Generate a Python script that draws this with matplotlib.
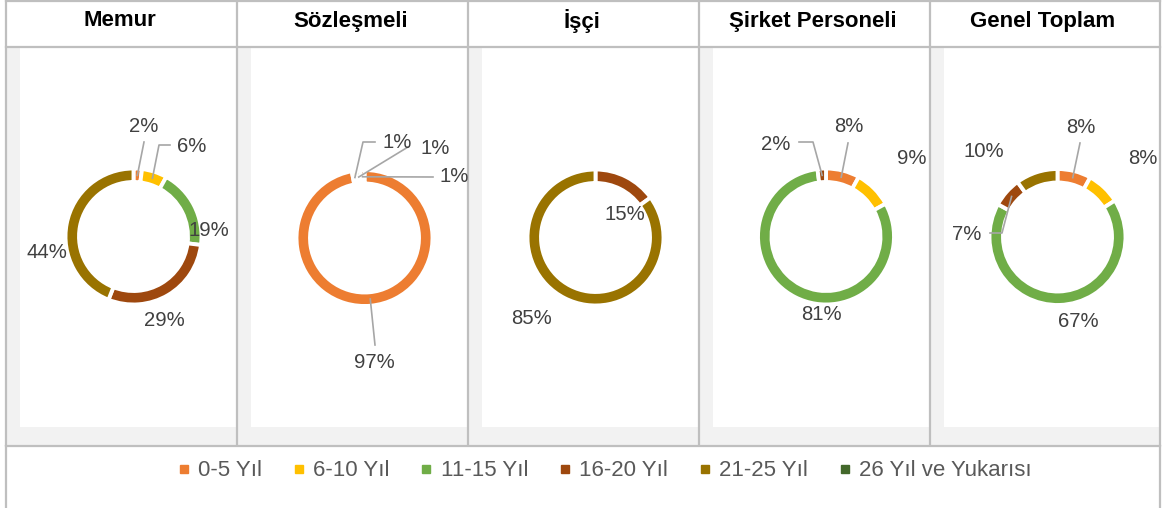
import numpy as np
import matplotlib
matplotlib.use("Agg")
import matplotlib.pyplot as plt
from matplotlib.patches import Rectangle
from matplotlib.lines import Line2D
from matplotlib import font_manager

W, H = 1162, 508

categories = ["0-5 Yıl", "6-10 Yıl", "11-15 Yıl", "16-20 Yıl", "21-25 Yıl", "26 Yıl ve Yukarısı"]
colors = ["#ED7D31", "#FFC000", "#70AD47", "#9E480E", "#997300", "#43682B"]

titles = ["Memur", "Sözleşmeli", "İşçi", "Şirket Personeli", "Genel Toplam"]
memur = [2, 6, 19, 29, 44, 0]
sozlesmeli = [97, 1, 1, 1, 0, 0]
isci = [0, 0, 0, 15, 85, 0]
sirket = [8, 9, 81, 2, 0, 0]
genel = [8, 8, 67, 7, 10, 0]
panels = [memur, sozlesmeli, isci, sirket, genel]

# label placement per panel: category -> (dx, dy, leader points), pixels from donut centre
label_pos = [
    {0: (10, -110.5, [(10.5, -94.5)]),
     1: (58.5, -90.5, [(36.5, -91.5), (25.5, -91.5)]),
     2: (75.5, -5.5, None),
     3: (30.5, 83.5, None),
     4: (-86.5, 16, None)},
    {0: (10, 124.5, [(10.5, 107)]),
     1: (33, -95.5, [(10.5, -96), (-1.5, -96)]),
     2: (70.5, -90, [(43.5, -91)]),
     3: (90, -62, [(68.5, -61)])},
    {3: (29, -23.5, None),
     4: (-63.5, 80.5, None)},
    {0: (23, -110, [(22, -93.5)]),
     1: (85.5, -77.5, None),
     2: (-5, 78.5, None),
     3: (-50, -92, [(-27, -94.5), (-13, -94.5)])},
    {0: (23.5, -109.5, [(22.5, -94)]),
     1: (85, -78, None),
     2: (21, 84.5, None),
     3: (-90.5, -3, [(-67.5, -4), (-55.5, -4)]),
     4: (-74, -85.5, None)},
]

names = {f.name for f in font_manager.fontManager.ttflist}
narrow = "Liberation Sans Narrow" in names
lab_family = ["Liberation Sans Narrow"] if narrow else ["Liberation Sans"]
lab_size = 16.5 if narrow else 14.6
plt.rcParams["font.family"] = ["Liberation Sans", "DejaVu Sans"]

fig = plt.figure(figsize=(W / 100, H / 100), dpi=100)
bg = fig.add_axes([0, 0, 1, 1])
bg.set_xlim(0, W)
bg.set_ylim(H, 0)
bg.axis("off")

border = "#BFBFBF"
col_x = [6, 237, 468, 699, 930, 1160]
for i in range(5):
    x0, x1 = col_x[i], col_x[i + 1]
    bg.add_patch(Rectangle((x0, 47), x1 - x0, 399, facecolor="#F2F2F2", edgecolor="none"))
    bg.add_patch(Rectangle((x0 + 14, 48), x1 - x0 - 14, 379, facecolor="white", edgecolor="none"))
    bg.text((x0 + x1) / 2 - 2, 21, titles[i], ha="center", va="center",
            fontsize=16, fontweight="bold", color="black")
for x in col_x:
    bg.plot([x, x], [0, 446], color=border, lw=1.6, solid_capstyle="butt")
bg.plot([6, 6], [446, H], color=border, lw=1.6)
bg.plot([1160, 1160], [446, H], color=border, lw=1.6)
for y in [0.8, 47, 446]:
    bg.plot([6, 1160], [y, y], color=border, lw=1.6)

centers = [(133.5, 236.5), (364.5, 238), (595.5, 237.5), (826, 236.5), (1057.5, 237)]
S = 140
R, RW = 68, 13.5
rmid = R - RW / 2
for vals, (cx, cy), labs in zip(panels, centers, label_pos):
    ax = fig.add_axes([(cx - S) / W, (H - cy - S) / H, 2 * S / W, 2 * S / H])
    idx = [k for k, v in enumerate(vals) if v > 0]
    ax.pie([vals[k] for k in idx], colors=[colors[k] for k in idx], radius=R,
           startangle=90, counterclock=False,
           wedgeprops=dict(width=RW, edgecolor="white", linewidth=2.8))
    ax.set_xlim(-S, S)
    ax.set_ylim(-S, S)
    ax.axis("off")
    total = float(sum(vals))
    cum = np.cumsum([0] + vals[:-1])
    for k, (dx, dy, leader) in labs.items():
        th = np.deg2rad(360 * (cum[k] + vals[k] / 2) / total)
        if leader:
            pts = [(px, -py) for px, py in leader] + [(rmid * np.sin(th), rmid * np.cos(th))]
            ax.plot([p[0] for p in pts], [p[1] for p in pts], color="#A6A6A6", lw=1.2,
                    clip_on=False, zorder=3)
        ax.text(dx, -dy, f"{vals[k]}%", ha="center", va="center", family=lab_family,
                fontsize=lab_size, color="#404040", clip_on=False, zorder=4)

handles = [Line2D([], [], marker="s", linestyle="none", markersize=6, color=c) for c in colors]
fig.legend(handles, categories, loc="center", bbox_to_anchor=(604 / W, 1 - 471 / H),
           ncol=6, frameon=False, fontsize=16, handlelength=0.7, handletextpad=0.3,
           columnspacing=1.3, labelcolor="#595959", borderaxespad=0, borderpad=0)

fig.savefig("out.png", dpi=100)
